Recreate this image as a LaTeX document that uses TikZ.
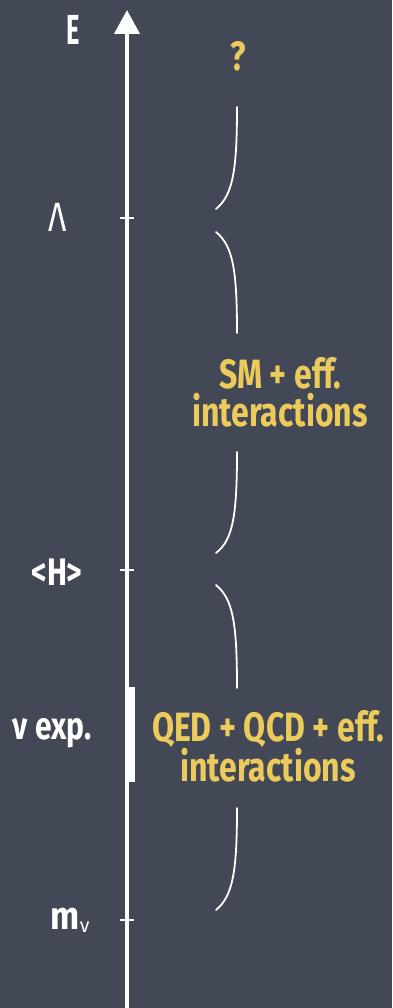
\documentclass[tikz,border=0pt]{standalone}
\usepackage{fontspec}
\setmainfont{Fira Sans}
\usetikzlibrary{arrows.meta}
\definecolor{board}{RGB}{66,72,86}
\definecolor{chalkyellow}{RGB}{236,203,92}
\newcommand\talltext[1]{\scalebox{1}[1.28]{#1}}
\begin{document}
\begin{tikzpicture}[x=1pt,y=-1pt,
  axisline/.style={white,line width=4pt},
  tickmark/.style={white,line width=2.5pt},
  bracepiece/.style={white,line width=1.8pt,line cap=round},
  leftlbl/.style={white,font=\fontsize{30}{34}\selectfont\bfseries,anchor=center},
  rangelbl/.style={chalkyellow,font=\fontsize{32}{38}\selectfont\bfseries,align=center,anchor=center}]
\fill[board] (0,0) rectangle (392,1008);
\useasboundingbox (0,0) rectangle (392,1008);
% axis
\coordinate (axbot) at (127,1008);
\coordinate (axtop) at (127,10);
\draw[axisline,-{Triangle[width=25pt,length=24pt]}] (axbot) -- (axtop);
% ticks
\coordinate (tLa) at (127,218);
\coordinate (tH) at (127,570);
\coordinate (tm) at (127,920);
\draw[tickmark] ([xshift=-7pt]tLa) -- ([xshift=7pt]tLa);
\draw[tickmark] ([xshift=-7pt]tH) -- ([xshift=7pt]tH);
\draw[tickmark] ([xshift=-7pt]tm) -- ([xshift=7pt]tm);
% nu exp bar
\fill[white] (129,687) rectangle (135,782);
% left labels
\node[leftlbl] (E) at (73,30) {\scalebox{0.85}[1.4]{E}};
\node[leftlbl,font=\fontsize{32}{34}\selectfont] (La) at (58,217) {\talltext{Λ}};
\node[leftlbl] (H) at (57,572) {\talltext{<H>}};
\node[leftlbl] (nu) at (52,733) {\talltext{ν exp.}};
\node[leftlbl] (m) at (70,920) {\scalebox{1.15}[1.3]{m}\raisebox{-0.2ex}{\fontsize{20}{22}\selectfont\mdseries ν}};
% range labels
\node[rangelbl] (q) at (238,56) {\talltext{?}};
\node[rangelbl] (sm) at (280,392) {\talltext{SM + eff.}\\\talltext{interactions}};
\node[rangelbl] (qed) at (268,746) {\talltext{QED + QCD + eff.}\\\talltext{interactions}};
% brace pieces
\draw[bracepiece] (237,107) .. controls (237,170) and (233,195) .. (216,209);
\draw[bracepiece] (216,232) .. controls (233,246) and (237,270) .. (237,333);
\draw[bracepiece] (237,452) .. controls (237,515) and (233,540) .. (216,553);
\draw[bracepiece] (216,585) .. controls (233,599) and (237,623) .. (237,688);
\draw[bracepiece] (237,808) .. controls (237,871) and (233,896) .. (216,910);
\end{tikzpicture}
\end{document}
